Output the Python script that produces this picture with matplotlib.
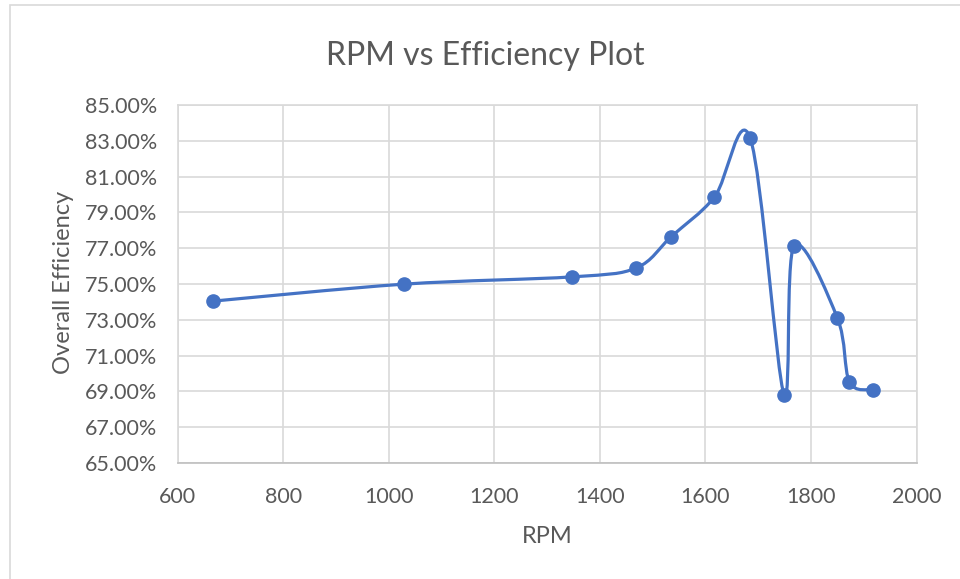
import numpy as np
import matplotlib
matplotlib.use("Agg")
import matplotlib.pyplot as plt
from matplotlib.path import Path
from matplotlib.patches import PathPatch, Rectangle
from matplotlib.ticker import FuncFormatter, FixedLocator

# values
rpm = [666, 1028, 1348, 1469, 1535, 1617, 1685, 1749, 1768, 1850, 1873, 1917]
efficiency = [74.04, 74.99, 75.40, 75.90, 77.64, 79.85, 83.14, 68.82, 77.13, 73.11, 69.53, 69.10]

x_ticks = [600, 800, 1000, 1200, 1400, 1600, 1800, 2000]
y_ticks = [65, 67, 69, 71, 73, 75, 77, 79, 81, 83, 85]

title = "RPM vs Efficiency Plot"
x_label = "RPM"
y_label = "Overall Efficiency"

blue = "#4472C4"
grid_col = "#D9D9D9"
text_col = "#595959"

plt.rcParams['font.family'] = ['Lato', 'DejaVu Sans']


def smooth_path(xs, ys):
    # Excel style smoothed line: cubic bezier through every point
    pts = np.column_stack([xs, ys]).astype(float)
    n = len(pts)
    verts = [pts[0]]
    codes = [Path.MOVETO]
    for i in range(n - 1):
        p0 = pts[max(i - 1, 0)]
        p1 = pts[i]
        p2 = pts[i + 1]
        p3 = pts[min(i + 2, n - 1)]
        c1 = p1 + (p2 - p0) / 6.0
        c2 = p2 - (p3 - p1) / 6.0
        verts += [c1, c2, p2]
        codes += [Path.CURVE4] * 3
    return Path(verts, codes)


W, H = 960, 579
fig = plt.figure(figsize=(W / 100, H / 100), dpi=100)
ax = fig.add_axes([177.7 / W, 1 - 463 / H, (916.5 - 177.7) / W, (463 - 105) / H])

# chart area border (only top and left are inside the crop)
fig.add_artist(Rectangle((10 / W, -0.1), 1.2, 1.1 - 5 / H, transform=fig.transFigure,
                         fill=False, edgecolor=grid_col, linewidth=1.2))

line = PathPatch(smooth_path(rpm, efficiency), fill=False, edgecolor=blue,
                 linewidth=2.3, capstyle='round', joinstyle='round', zorder=3)
ax.add_patch(line)
ax.plot(rpm, efficiency, linestyle='none', marker='o', markersize=9.5,
        color=blue, zorder=4)

ax.set_xlim(600, 2000)
ax.set_ylim(65, 85)
ax.xaxis.set_major_locator(FixedLocator(x_ticks))
ax.yaxis.set_major_locator(FixedLocator(y_ticks))
ax.yaxis.set_major_formatter(FuncFormatter(lambda v, p: "{:.2f}%".format(v)))

ax.grid(True, color=grid_col, linewidth=1.2)
ax.set_axisbelow(True)
for s in ax.spines.values():
    s.set_color(grid_col)
    s.set_linewidth(1.2)
ax.spines['bottom'].set_color("#BFBFBF")

ax.tick_params(axis='both', length=0, labelsize=15.5, colors=text_col)
ax.tick_params(axis='y', pad=15)
ax.tick_params(axis='x', pad=17)

fig.text(485 / W, 1 - 65 / H, title, fontsize=23, color=text_col,
         ha='center', va='baseline')
fig.text(547 / W, 1 - 543 / H, x_label, fontsize=17, color=text_col,
         ha='center', va='baseline')
fig.text(63 / W, 1 - 282 / H, y_label, fontsize=17, color=text_col,
         ha='center', va='center', rotation=90)

fig.savefig("out.png", dpi=100, facecolor="white")
